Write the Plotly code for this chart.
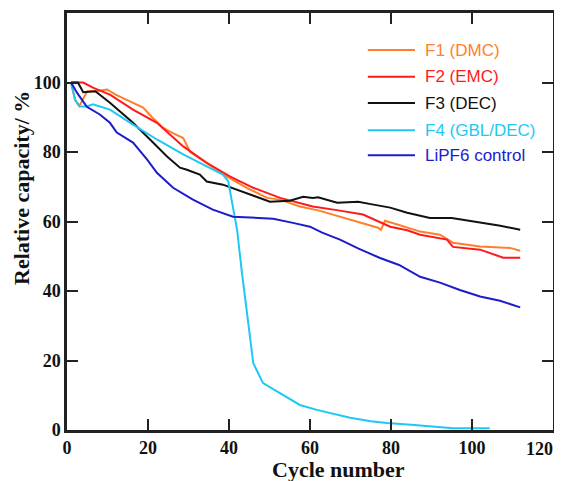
import plotly.graph_objects as go

# F1 (DMC)
f1_x = [1, 2, 3, 4, 5, 7, 9.9, 12, 15.6, 18.8, 21, 23.7, 26, 28.7, 30.4, 34.5, 39.4, 44.4, 49.4, 52.6, 57.5, 62, 67, 72, 76.8, 77.5, 78.5, 82, 87.2, 92.1, 95.3, 102, 109.4, 111.9]
f1_y = [100, 95, 93.2, 95.5, 97.5, 97.5, 98, 96.5, 94.5, 92.8, 90, 87, 85.5, 84, 80, 76.9, 73, 69.7, 66.8, 66.3, 64.3, 63.2, 61.5, 59.8, 58.2, 57.6, 60.2, 59, 57.1, 56.2, 53.9, 52.8, 52.4, 51.6]

# F2 (EMC)
f2_x = [1, 4, 6.4, 10.6, 16.3, 22.2, 28.7, 34.5, 40.2, 46, 52.6, 57.5, 60.7, 67, 73.1, 79.8, 84, 87.2, 93.8, 95.3, 102, 107.7, 111.9]
f2_y = [100, 100, 98.5, 96.5, 92.2, 88.4, 81.6, 76.9, 73, 69.7, 66.8, 65.4, 64.3, 63.2, 62, 58.5, 57.5, 56.2, 54.8, 52.7, 51.9, 49.6, 49.6]

# F3 (DEC)
f3_x = [1, 2.7, 4, 7, 10.6, 16.3, 20.5, 24.7, 27.9, 29.6, 32.8, 34.5, 38.5, 44.4, 50.1, 55, 58.3, 60.7, 62, 66.7, 71.9, 75, 79.8, 84, 89.6, 95, 102, 107, 111.9]
f3_y = [100, 100, 97.2, 97.5, 94.2, 88.4, 83.6, 78.7, 75.5, 74.9, 73.5, 71.5, 70.6, 68, 65.7, 66, 67.1, 66.8, 67, 65.4, 65.7, 65, 64, 62.5, 61, 61, 59.6, 58.8, 57.6]

# F4 (GBL/DEC)
f4_x = [1, 2, 3.2, 4.9, 6.4, 10.6, 16.3, 22.2, 28.7, 34.5, 38.5, 39.8, 41, 42, 43.2, 44.2, 45.2, 46, 48.4, 52.6, 57.5, 61.7, 69.9, 75, 79, 85, 91.4, 95.3, 104.4]
f4_y = [100, 95, 93.1, 93.1, 93.7, 92.2, 87.9, 83.6, 79.3, 75.9, 73.5, 71.6, 64.3, 57.6, 45.2, 35.5, 26.9, 19.2, 13.5, 10.6, 7.2, 5.8, 3.5, 2.5, 2.0, 1.5, 0.9, 0.5, 0.5]

# LiPF6 control
c_x = [1, 2.5, 4.9, 8.1, 10.6, 12.3, 16.3, 19.8, 22.2, 26.2, 31.1, 36, 41, 46, 50.9, 55.8, 60, 63, 67.4, 72, 77.3, 82, 87.2, 92.1, 97, 102, 106.9, 111.9]
c_y = [100, 97, 93, 90.8, 88.4, 85.6, 82.7, 77.8, 74, 69.7, 66.3, 63.4, 61.4, 61, 60.8, 59.6, 58.5, 56.8, 54.8, 52.2, 49.5, 47.5, 44.1, 42.4, 40.3, 38.4, 37.2, 35.3]

names = ["F1 (DMC)", "F2 (EMC)", "F3 (DEC)", "F4 (GBL/DEC)", "LiPF6 control"]
colors = ["#FF7F2A", "#FF1A1A", "#111111", "#1EC8F5", "#1C1CCC"]
xs = [f1_x, f2_x, f3_x, f4_x, c_x]
ys = [f1_y, f2_y, f3_y, f4_y, c_y]

y_ticks = [0, 20, 40, 60, 80, 100, 120]
y_ticktext = ["0", "20", "40", "60", "80", "100", ""]
x_ticks = [0, 20, 40, 60, 80, 100, 120]
x_ticktext = ["0", "20", "40", "60", "80", "100", ""]
x_last_label = "120"

fig = go.Figure()
for x, y, n, c in zip(xs, ys, names, colors):
    fig.add_trace(go.Scatter(x=x, y=y, name=n, mode="lines", showlegend=False,
                             line=dict(color=c, width=2)))

serif = "Liberation Serif, Times New Roman, serif"
sans = "Liberation Sans, Arial, sans-serif"

# manual legend (line sample + coloured text), paper coordinates
leg_rows = [0.911, 0.847, 0.784, 0.719, 0.659]
for n, c, yy in zip(names, colors, leg_rows):
    fig.add_shape(type="line", xref="paper", yref="paper", x0=0.619, x1=0.716,
                  y0=yy, y1=yy, line=dict(color=c, width=2))
    fig.add_annotation(xref="paper", yref="paper", x=0.7325, y=yy, text=n,
                       showarrow=False, xanchor="left", yanchor="middle",
                       font=dict(family=sans, size=17, color=c))

# last x tick label, kept inside the page edge
fig.add_annotation(xref="paper", yref="paper", x=1.004, y=-0.045,
                   text=f"<b>{x_last_label}</b>", showarrow=False,
                   xanchor="right", yanchor="middle",
                   font=dict(family=serif, size=18, color="#111"))

# axis titles
fig.add_annotation(xref="paper", yref="paper", x=0.558, y=-0.094,
                   text="<b>Cycle number</b>", showarrow=False,
                   xanchor="center", yanchor="middle",
                   font=dict(family=serif, size=22, color="#111"))
fig.add_annotation(xref="paper", yref="paper", x=-0.095, y=0.58,
                   text="<b>Relative capacity/ %</b>", showarrow=False,
                   textangle=-90, xanchor="center", yanchor="middle",
                   font=dict(family=serif, size=22, color="#111"))

axis_common = dict(ticks="inside", ticklen=11, tickwidth=2, tickcolor="#222",
                   showline=True, linewidth=2.5, linecolor="#222", mirror="ticks",
                   showgrid=False, zeroline=False, automargin=False,
                   tickfont=dict(family=serif, size=18, color="#111", weight="bold"))

fig.update_layout(
    template="none",
    width=554, height=473,
    margin=dict(l=59, r=9, t=5, b=51),
    paper_bgcolor="white", plot_bgcolor="white",
    showlegend=False,
    xaxis=dict(range=[0, 120], tickvals=x_ticks, ticktext=x_ticktext, **axis_common),
    yaxis=dict(range=[0, 120], tickvals=y_ticks, ticktext=y_ticktext, **axis_common),
)

fig.write_html("out.html")
